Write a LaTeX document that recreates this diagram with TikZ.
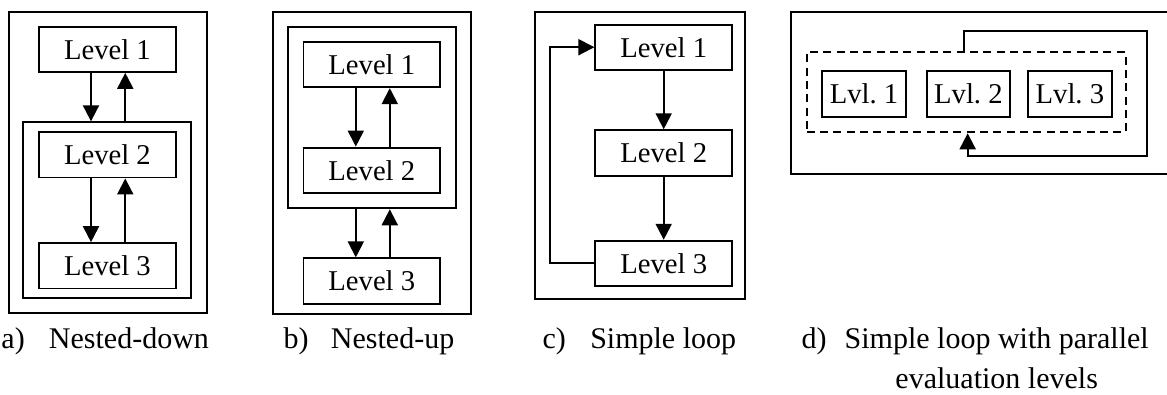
\documentclass[tikz,border=0pt]{standalone}
\usepackage{fontspec}
\setmainfont{Liberation Serif}
\usepackage{tikz}
\usetikzlibrary{arrows.meta}

\begin{document}
\begin{tikzpicture}[x=0.75pt,y=-0.75pt,line width=1.45pt,
  lvl/.style={draw,minimum width=102.5pt,minimum height=34pt,inner sep=0pt,font=\fontsize{21.5}{25}\selectfont},
  slvl/.style={lvl,minimum width=62.5pt},
  frame/.style={draw,inner sep=0pt},
  arr/.style={-{Triangle[width=12pt,length=12pt]}},
  caption/.style={anchor=base west,inner sep=0pt,font=\fontsize{22.5}{30}\selectfont}]
\useasboundingbox (0,0) rectangle (1167,394);
% a) nested-down
\node[frame,minimum width=148pt,minimum height=226.2pt] (a-out) at (108,162.5) {};
\node[frame,minimum width=126.2pt,minimum height=132pt] (a-in) at (106.9,210.3) {};
\node[lvl] (a1) at (107.4,49.2) {Level 1};
\node[lvl] (a2) at (107.4,154.8) {Level 2};
\node[lvl] (a3) at (107.4,265.8) {Level 3};
\draw[arr] ([xshift=-12.3pt]a1.south) -- ([xshift=-12.3pt]a1.south |- a-in.north);
\draw[arr] ([xshift=13.4pt]a1.south |- a-in.north) -- ([xshift=13.4pt]a1.south);
\draw[arr] ([xshift=-12.3pt]a2.south) -- ([xshift=-12.3pt]a3.north);
\draw[arr] ([xshift=13.4pt]a3.north) -- ([xshift=13.4pt]a2.south);
\node[caption] (a-lab) at (0.5,348) {a)};
\node[caption] (a-txt) at (48,348) {Nested-down};
% b) nested-up
\node[frame,minimum width=148pt,minimum height=226.7pt] (b-out) at (372,162.9) {};
\node[frame,minimum width=126.2pt,minimum height=136.2pt] (b-in) at (371.9,117.5) {};
\node[lvl] (b1) at (371.8,64.5) {Level 1};
\node[lvl] (b2) at (371.8,170.2) {Level 2};
\node[lvl] (b3) at (371.8,281) {Level 3};
\draw[arr] ([xshift=-12pt]b1.south) -- ([xshift=-12pt]b2.north);
\draw[arr] ([xshift=13.5pt]b2.north) -- ([xshift=13.5pt]b1.south);
\draw[arr] ([xshift=-12pt]b3.north |- b-in.south) -- ([xshift=-12pt]b3.north);
\draw[arr] ([xshift=13.5pt]b3.north) -- ([xshift=13.5pt]b3.north |- b-in.south);
\node[caption] (b-lab) at (282.7,348) {b)};
\node[caption] (b-txt) at (330,348) {Nested-up};
% c) simple loop
\node[frame,minimum width=157.7pt,minimum height=215.7pt] (c-out) at (639.9,155.5) {};
\node[lvl] (c1) at (663.7,47.2) {Level 1};
\node[lvl] (c2) at (663.7,152.9) {Level 2};
\node[lvl] (c3) at (663.7,263.4) {Level 3};
\coordinate (c-back) at (550,155);
\draw[arr] (c1) -- (c2);
\draw[arr] (c2) -- (c3);
\draw[arr] (c3.west) -| (c-back) |- (c1.west);
\node[caption] (c-lab) at (541.7,348) {c)};
\node[caption] (c-txt) at (589.3,348) {Simple loop};
% d) simple loop, parallel levels
\draw (1190,11.7) -| (790.7,174) -- (1190,174);
\node[frame,dash pattern=on 6pt off 4pt,minimum width=239.3pt,minimum height=60pt] (d-par) at (966.2,92.3) {};
\node[slvl] (d1) at (864,93.9) {Lvl.\ 1};
\node[slvl] (d2) at (968.4,93.9) {Lvl.\ 2};
\node[slvl] (d3) at (1069.9,93.9) {Lvl.\ 3};
\coordinate (d-up) at (1146.7,30.7);
\coordinate (d-lo) at (1146.7,155.7);
\draw[arr] ([xshift=-1.4pt]d-par.north) |- (d-up) -- (d-lo) -| ([xshift=1.1pt]d-par.south);
\node[caption] (d-lab) at (800.7,348) {d)};
\node[caption,anchor=base] (d-txt1) at (996.7,348) {Simple loop with parallel};
\node[caption,anchor=base] (d-txt2) at (996.7,388) {evaluation levels};
\end{tikzpicture}
\end{document}
